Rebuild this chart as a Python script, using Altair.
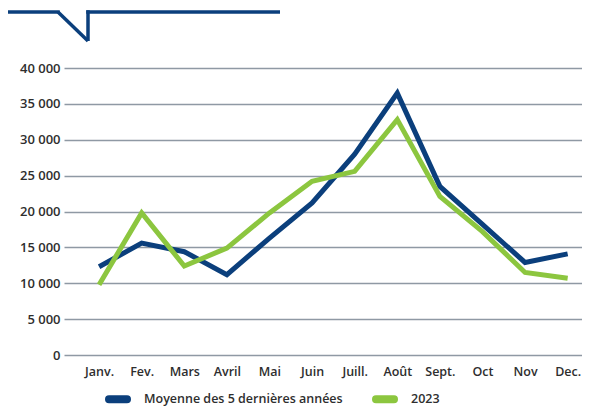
import altair as alt
import pandas as pd

months = ["Janv.", "Fev.", "Mars", "Avril", "Mai", "Juin", "Juill.", "Août", "Sept.", "Oct", "Nov", "Dec."]
avg5 = [12300, 15600, 14400, 11200, 16300, 21200, 28000, 36500, 23500, 18200, 12900, 14100]
y2023 = [9800, 19800, 12400, 14900, 19800, 24200, 25600, 32800, 22100, 17200, 11500, 10700]
series = ["Moyenne des 5 dernières années", "2023"]
colors = ["#0b3f7c", "#8cc63f"]
y_ticks = [0, 5000, 10000, 15000, 20000, 25000, 30000, 35000, 40000]

rows = []
for m, a, b in zip(months, avg5, y2023):
    rows.append({"mois": m, "valeur": a, "serie": series[0]})
    rows.append({"mois": m, "valeur": b, "serie": series[1]})
df = pd.DataFrame(rows)

FONT = "Open Sans"
TXT = "#2e2e2e"
capsule = "M-0.72,-0.04 L0.72,-0.04 A0.04,0.04 0 0 1 0.72,0.04 L-0.72,0.04 A0.04,0.04 0 0 1 -0.72,-0.04 Z"

lines = alt.Chart(df).mark_line(strokeWidth=5, strokeJoin="miter").encode(
    x=alt.X("mois:O", sort=months, title=None,
            scale=alt.Scale(type="point", padding=0.58, align=0.71),
            axis=alt.Axis(labelAngle=0, ticks=False, domain=False, grid=False,
                          labelPadding=10, labelFontSize=12.5, labelFontWeight=600,
                          labelColor=TXT, labelFont=FONT)),
    y=alt.Y("valeur:Q", title=None,
            scale=alt.Scale(domain=[0, 40000], nice=False),
            axis=alt.Axis(values=y_ticks, ticks=False, domain=False, grid=True,
                          gridColor="#8f99a4", gridWidth=1.5,
                          labelExpr="replace(format(datum.value, ','), ',', ' ')",
                          labelPadding=4, labelFontSize=13, labelFontWeight=600,
                          labelColor=TXT, labelFont=FONT)),
    color=alt.Color("serie:N", sort=series,
                    scale=alt.Scale(domain=series, range=colors),
                    legend=alt.Legend(title=None, orient="none", direction="horizontal",
                                      legendX=38, legendY=315,
                                      symbolType=capsule, symbolSize=625,
                                      symbolStrokeWidth=7, labelFontSize=12.5,
                                      labelFontWeight=600, labelColor=TXT, labelLimit=300,
                                      labelFont=FONT, labelOffset=10, columnPadding=18)),
)

deco_color = "#0b3f7c"
seg1 = alt.Chart().mark_rule(color=deco_color, strokeWidth=3.5, strokeCap="square").encode(
    x=alt.value(-61), x2=alt.value(-6), y=alt.value(-56), y2=alt.value(-56))
seg2 = alt.Chart().mark_rule(color=deco_color, strokeWidth=3.5).encode(
    x=alt.value(-6), x2=alt.value(24), y=alt.value(-56), y2=alt.value(-27))
seg3 = alt.Chart().mark_rule(color=deco_color, strokeWidth=3.5).encode(
    x=alt.value(24), x2=alt.value(24), y=alt.value(-27), y2=alt.value(-57.75))
seg4 = alt.Chart().mark_rule(color=deco_color, strokeWidth=3.5).encode(
    x=alt.value(22.25), x2=alt.value(216), y=alt.value(-56), y2=alt.value(-56))

chart = alt.layer(lines, seg1, seg2, seg3, seg4).properties(
    width=518, height=287,
    autosize=alt.AutoSizeParams(type="none"),
    padding={"left": 56, "top": 60, "right": 0, "bottom": 52},
).configure_view(stroke=None)

chart.save("out.html", embed_options={"renderer": "svg", "actions": False})
